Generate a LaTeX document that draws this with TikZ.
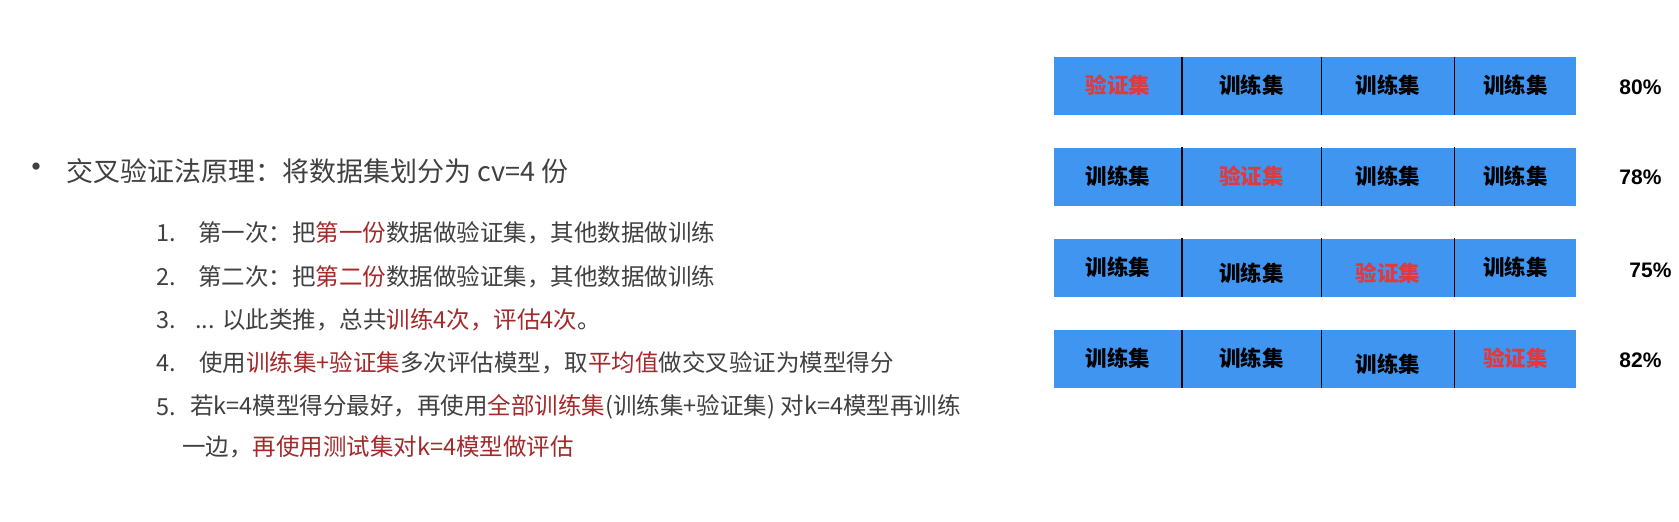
\documentclass[tikz,border=0pt]{standalone}
\usepackage{fontspec}
\newfontfamily\cjk{Noto Sans CJK SC}
\newfontfamily\pctfont{Liberation Sans}
\definecolor{txt}{HTML}{404040}
\definecolor{hl}{HTML}{A3292B}
\definecolor{cellblue}{HTML}{3F95F0}
\definecolor{cellred}{HTML}{E0393E}
\begin{document}
\begin{tikzpicture}[x=0.5pt,y=-0.5pt,
  titletext/.style={anchor=west,inner sep=0pt,text=txt,font=\cjk\fontsize{13.5}{16}\selectfont},
  bulletmark/.style={anchor=center,inner sep=0pt,text=txt,font=\cjk\fontsize{17}{18}\selectfont},
  itemtext/.style={anchor=west,inner sep=0pt,text=txt,font=\cjk\fontsize{11.75}{14}\selectfont},
  cell/.style={fill=cellblue,draw=none,inner sep=0pt,minimum height=29pt,text height=9.2pt,text depth=1.6pt,anchor=west,text=black,font=\cjk\bfseries\fontsize{10.75}{12}\selectfont},
  wa/.style={minimum width=63.5pt},
  wb/.style={minimum width=69.5pt},
  wc/.style={minimum width=66pt},
  wd/.style={minimum width=60.5pt},
  divider/.style={draw=black,line width=0.8pt},
  pct/.style={anchor=west,inner sep=0pt,text=black,font=\pctfont\bfseries\fontsize{10.5}{12}\selectfont},
]
\useasboundingbox[fill=white] (0,0) rectangle (1679,521);

% left text
\node[bulletmark] (bullet) at (36,171) {•};
\node[titletext] (title) at (66,171) {交叉验证法原理：将数据集划分为 cv=4 份};

\node[itemtext] (n1) at (156,233) {1.};
\node[itemtext] (i1) at (198,233) {第一次：把\textcolor{hl}{第一份}数据做验证集，其他数据做训练};
\node[itemtext] (n2) at (156,277) {2.};
\node[itemtext] (i2) at (198,277) {第二次：把\textcolor{hl}{第二份}数据做验证集，其他数据做训练};
\node[itemtext] (n3) at (156,320) {3.};
\node[itemtext] (i3) at (195,320) {... 以此类推，总共\textcolor{hl}{训练4次，评估4次}。};
\node[itemtext] (n4) at (156,363) {4.};
\node[itemtext] (i4) at (199,363) {使用\textcolor{hl}{训练集+验证集}多次评估模型，取\textcolor{hl}{平均值}做交叉验证为模型得分};
\node[itemtext] (n5) at (156,407) {5.};
\node[itemtext] (i5) at (190,407) {若k=4模型得分最好，再使用\textcolor{hl}{全部训练集}(训练集+验证集) 对k=4模型再训练};
\node[itemtext] (i5b) at (182,447) {一边，\textcolor{hl}{再使用测试集对k=4模型做评估}};

% right panel: row 1
\node[cell,wa] (r1a) at (1054,86) {\textcolor{cellred}{验证集}};
\node[cell,wb] (r1b) at (r1a.east) {训练集};
\node[cell,wc] (r1c) at (r1b.east) {训练集};
\node[cell,wd] (r1d) at (r1c.east) {训练集};
% row 2
\node[cell,wa] (r2a) at (1054,176.5) {训练集};
\node[cell,wb] (r2b) at (r2a.east) {\textcolor{cellred}{验证集}};
\node[cell,wc] (r2c) at (r2b.east) {训练集};
\node[cell,wd] (r2d) at (r2c.east) {训练集};
% row 3
\node[cell,wa] (r3a) at (1054,267.5) {训练集};
\node[cell,wb] (r3b) at (r3a.east) {\raisebox{-3pt}{训练集}};
\node[cell,wc] (r3c) at (r3b.east) {\raisebox{-3pt}{\textcolor{cellred}{验证集}}};
\node[cell,wd] (r3d) at (r3c.east) {训练集};
% row 4
\node[cell,wa] (r4a) at (1054,359) {训练集};
\node[cell,wb] (r4b) at (r4a.east) {训练集};
\node[cell,wc] (r4c) at (r4b.east) {\raisebox{-3pt}{训练集}};
\node[cell,wd] (r4d) at (r4c.east) {\textcolor{cellred}{验证集}};

\foreach \r in {1,2,3,4}{
  \foreach \c in {a,b,c}{
    \draw[divider] (r\r\c.north east) -- (r\r\c.south east);
  }
}

\node[pct] (p1) at (1619,87) {80\%};
\node[pct] (p2) at (1619,177) {78\%};
\node[pct] (p3) at (1629,270) {75\%};
\node[pct] (p4) at (1619,360) {82\%};
\end{tikzpicture}
\end{document}
